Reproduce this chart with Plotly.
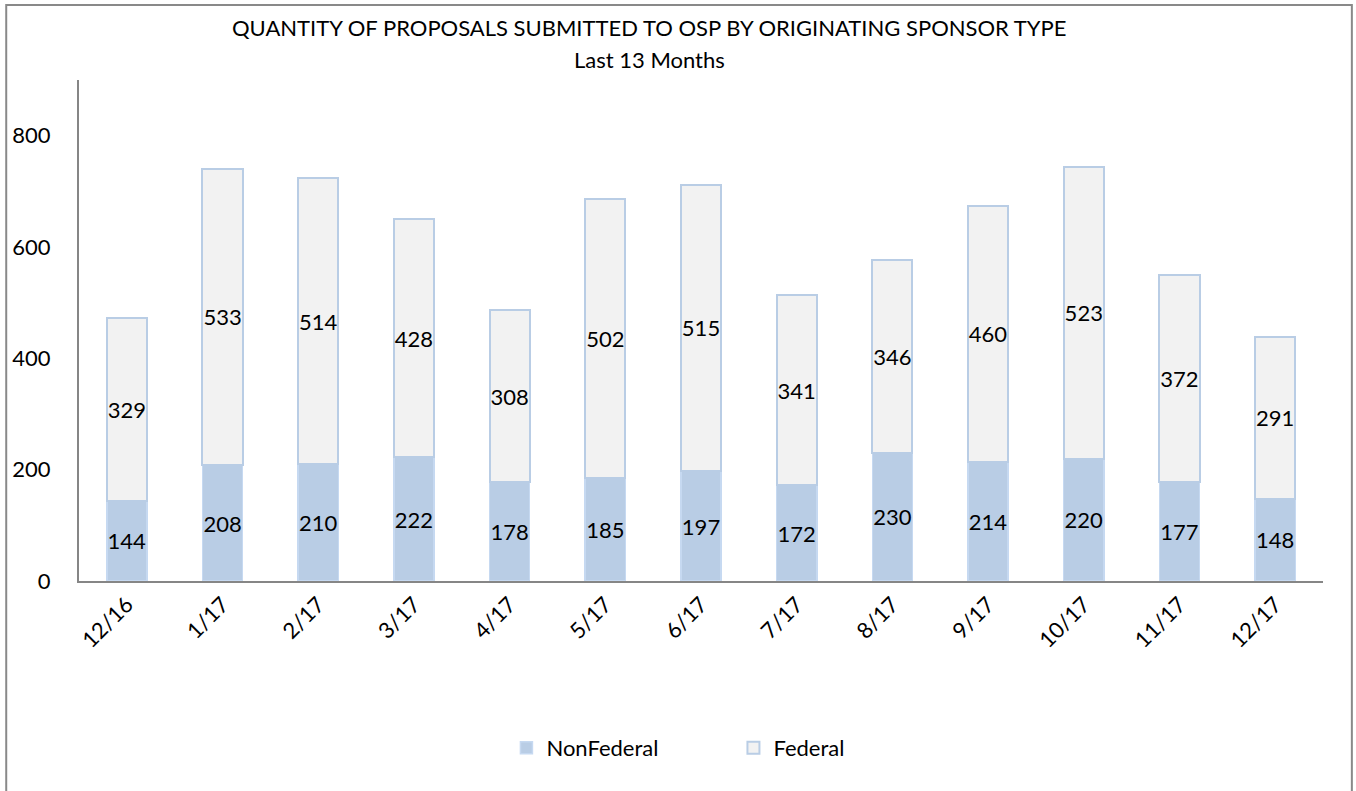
import plotly.graph_objects as go

months = ["12/16", "1/17", "2/17", "3/17", "4/17", "5/17", "6/17", "7/17", "8/17", "9/17", "10/17", "11/17", "12/17"]
nonfederal = [144, 208, 210, 222, 178, 185, 197, 172, 230, 214, 220, 177, 148]
federal = [329, 533, 514, 428, 308, 502, 515, 341, 346, 460, 523, 372, 291]

FONT = "Lato, 'Open Sans', sans-serif"

fig = go.Figure()
fig.add_trace(go.Bar(
    x=months, y=nonfederal, name="NonFederal",
    marker=dict(color="#B9CDE5", line=dict(color="#C6D9F1", width=1.5)),
    text=[str(v) for v in nonfederal], textposition="inside",
    insidetextanchor="middle", textangle=0, constraintext="none",
    textfont=dict(color="black", size=22, family=FONT),
))
fig.add_trace(go.Bar(
    x=months, y=federal, name="Federal",
    marker=dict(color="#F2F2F2", line=dict(color="#B9CDE5", width=2)),
    text=[str(v) for v in federal], textposition="inside",
    insidetextanchor="middle", textangle=0, constraintext="none",
    textfont=dict(color="black", size=22, family=FONT),
))

fig.update_layout(
    barmode="stack",
    bargap=0.58,
    width=1356, height=791,
    margin=dict(l=75, r=33, t=80, b=210),
    paper_bgcolor="white", plot_bgcolor="white",
    font=dict(family=FONT, size=22, color="black"),
    showlegend=True,
    legend=dict(orientation="h", x=0.3436, xanchor="left", y=-0.333, yanchor="middle",
                font=dict(size=22), traceorder="normal", entrywidth=182),
    annotations=[
        dict(text="QUANTITY OF PROPOSALS SUBMITTED TO OSP BY ORIGINATING SPONSOR TYPE",
             xref="paper", yref="paper", x=0.459, y=1.104, showarrow=False,
             xanchor="center", yanchor="middle", font=dict(size=22)),
        dict(text="Last 13 Months",
             xref="paper", yref="paper", x=0.459, y=1.04, showarrow=False,
             xanchor="center", yanchor="middle", font=dict(size=22)),
    ],
    shapes=[
        dict(type="rect", xref="paper", yref="paper",
             x0=-0.0585, x1=1.0232, y0=-0.43, y1=1.1497,
             line=dict(color="#898989", width=2), fillcolor="rgba(0,0,0,0)", layer="below"),
    ],
)
fig.update_yaxes(range=[0, 900], dtick=200, showgrid=False, zeroline=False,
                 showline=True, linecolor="#868686", linewidth=2,
                 ticks="", ticklabelstandoff=22, tickfont=dict(size=22))
fig.update_xaxes(showgrid=False, showline=True, linecolor="#868686", linewidth=2,
                 ticks="", tickangle=-45, tickfont=dict(size=22))

fig.write_html("out.html", config={"displayModeBar": False},
               post_script="document.body.style.margin='0';document.body.style.overflow='hidden';")
